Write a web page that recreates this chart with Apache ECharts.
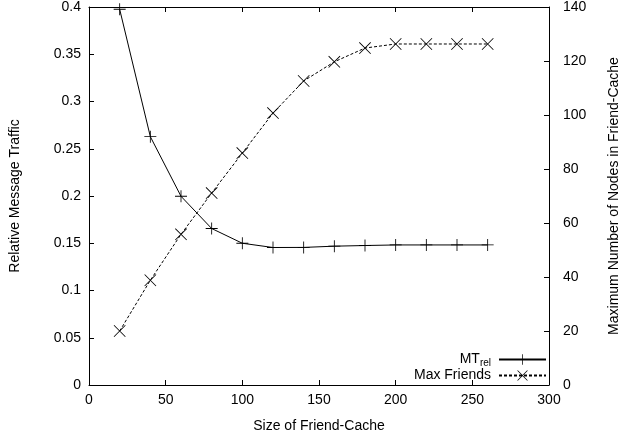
<!DOCTYPE html>
<html>
<head>
<meta charset="utf-8">
<script src="https://cdn.jsdelivr.net/npm/echarts@6/dist/echarts.min.js"></script>
<style>html,body{margin:0;padding:0;background:#fff}#c{width:629px;height:438px}</style>
</head>
<body>
<div id="c"></div>
<script>
var cacheSizes = [20, 40, 60, 80, 100, 120, 140, 160, 180, 200, 220, 240, 260];
var mtRel = [0.3976, 0.2628, 0.1997, 0.1656, 0.1500, 0.1455, 0.1456, 0.1469, 0.1476, 0.1482, 0.1482, 0.1482, 0.1482];
var maxFriends = [20, 38.8, 55.8, 71.1, 85.9, 100.7, 112.6, 119.7, 124.8, 126.3, 126.3, 126.3, 126.3];
var seriesNames = ['MT_rel', 'Max Friends'];
var xTitle = 'Size of Friend-Cache';
var yLeftTitle = 'Relative Message Traffic';
var yRightTitle = 'Maximum Number of Nodes in Friend-Cache';

var FONT = 'Liberation Sans, Arial, Helvetica, sans-serif';
var plusPath = 'path://M-1,-0.07H1V0.07H-1Z M-0.07,-1H0.07V1H-0.07Z';
var crossPath = 'path://M-1,-0.9L-0.9,-1L1,0.9L0.9,1Z M0.9,-1L1,-0.9L-0.9,1L-1,0.9Z';

function pairs(xs, ys) { return xs.map(function (x, i) { return [x, ys[i]]; }); }

var chart = echarts.init(document.getElementById('c'), null, {renderer: 'canvas'});
var axisCommon = {
  axisLine: {show: true, onZero: false, lineStyle: {color: '#000', width: 1}},
  axisTick: {show: true, inside: true, length: 5, lineStyle: {color: '#000'}},
  splitLine: {show: false},
  axisLabel: {color: '#000', fontSize: 14, fontFamily: FONT}
};
chart.setOption({
  animation: false,
  backgroundColor: '#fff',
  grid: {left: 83, right: 65, top: 5, bottom: 49, containLabel: false},
  xAxis: [
    Object.assign({}, axisCommon, {
      type: 'value', min: 0, max: 300, interval: 50, position: 'bottom',
      name: xTitle, nameLocation: 'middle', nameGap: 34,
      nameTextStyle: {color: '#000', fontSize: 14, fontFamily: FONT},
      axisLabel: {color: '#000', fontSize: 14, fontFamily: FONT, margin: 8}
    }),
    Object.assign({}, axisCommon, {
      type: 'value', min: 0, max: 300, interval: 50, position: 'top',
      axisLabel: {show: false}
    })
  ],
  yAxis: [
    Object.assign({}, axisCommon, {
      type: 'value', min: 0, max: 0.4, interval: 0.05, position: 'left',
      name: yLeftTitle, nameLocation: 'middle', nameGap: 67, nameRotate: 90,
      nameTextStyle: {color: '#000', fontSize: 14, fontFamily: FONT},
      axisLabel: {color: '#000', fontSize: 14, fontFamily: FONT, margin: 8}
    }),
    Object.assign({}, axisCommon, {
      type: 'value', min: 0, max: 140, interval: 20, position: 'right',
      name: yRightTitle, nameLocation: 'middle', nameGap: 58, nameRotate: 90,
      nameTextStyle: {color: '#000', fontSize: 14, fontFamily: FONT},
      axisLabel: {color: '#000', fontSize: 14, fontFamily: FONT, margin: 14}
    })
  ],
  legend: {
    orient: 'vertical', right: 82, bottom: 55.5, padding: 0,
    align: 'right', itemWidth: 47, itemHeight: 13, itemGap: 0,
    data: seriesNames,
    textStyle: {color: '#000', fontSize: 14, fontFamily: FONT, width: 80, align: 'right', padding: [0, 3, 0, 0],
      rich: {sub: {fontSize: 10, fontFamily: FONT, color: '#000', padding: [8, 0, 0, 0]}}},
    formatter: function (n) { return n === 'MT_rel' ? 'MT{sub|rel}' : n; }
  },
  series: [
    {
      name: seriesNames[0], type: 'line', xAxisIndex: 0, yAxisIndex: 0,
      data: pairs(cacheSizes, mtRel),
      symbol: plusPath, symbolSize: 12,
      itemStyle: {color: '#000'},
      lineStyle: {color: '#000', width: 1}
    },
    {
      name: seriesNames[1], type: 'line', xAxisIndex: 0, yAxisIndex: 1,
      data: pairs(cacheSizes, maxFriends),
      symbol: crossPath, symbolSize: 12,
      itemStyle: {color: '#000'},
      lineStyle: {color: '#000', width: 1, type: [3, 2]}
    }
  ]
});
</script>
</body>
</html>
